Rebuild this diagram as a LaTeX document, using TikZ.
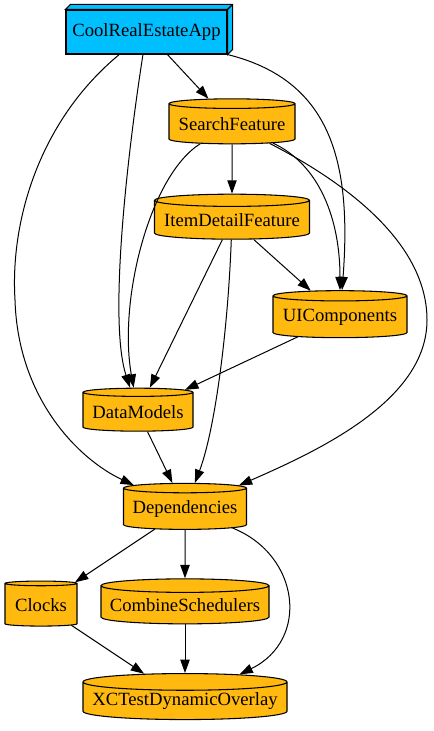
\documentclass[tikz,border=0pt]{standalone}
\usepackage{fontspec}
\setmainfont{Liberation Serif}
\usetikzlibrary{shapes.geometric,arrows.meta}
\definecolor{appblue}{HTML}{00BFFF}
\definecolor{modorange}{HTML}{FFB90F}

\begin{document}
\begin{tikzpicture}[x=0.75pt,y=-0.75pt,font=\fontsize{14}{16}\selectfont,
    module/.style={cylinder,shape border rotate=90,aspect=0.09,draw,fill=modorange,line width=0.8pt,minimum height=33.75pt,inner sep=0pt},
    link/.style={-{Triangle[length=10pt,width=7pt]},line width=0.75pt}]
  \useasboundingbox (0,0) rectangle (433,731);

  \node[draw,fill=appblue,line width=0.8pt,minimum width=120.75pt,minimum height=33pt,inner sep=0pt] (app) at (146.5,32) {CoolRealEstateApp};
  \draw[fill=appblue,line width=0.8pt] (app.north west) -- ++(5,-5) -- ([shift={(5,-5)}]app.north east) -- ([shift={(5,-5)}]app.south east) -- (app.south east) -- (app.north east) -- cycle;
  \draw[line width=0.8pt] (app.north east) -- ++(5,-5);

  \node[module,minimum width=94.5pt] (search) at (232,124) {SearchFeature};
  \node[module,minimum width=116.25pt] (item) at (232,220) {ItemDetailFeature};
  \node[module,minimum width=100.5pt,minimum height=35.25pt] (ui) at (340,317) {UIComponents};
  \node[module,minimum width=82.5pt,minimum height=32.25pt] (models) at (138,412) {DataModels};
  \node[module,minimum width=92.25pt,minimum height=34.5pt] (deps) at (185,509) {Dependencies};
  \node[module,minimum width=54pt] (clocks) at (41,605) {Clocks};
  \node[module,minimum width=126pt] (sched) at (185,605) {CombineSchedulers};
  \node[module,minimum width=153pt,minimum height=34.5pt] (overlay) at (185,701) {XCTestDynamicOverlay};

  \draw[link] (app) -- (search);
  \draw[link] (app) .. controls (128,150) and (108,320) .. (models);
  \draw[link] (app) .. controls (40,120) and (10,220) .. (15,300) .. controls (18,400) and (80,460) .. (deps);
  \draw[link] (app.south east) .. controls (330,80) and (352,160) .. (ui);
  \draw[link] (search) -- (item);
  \draw[link] (search) .. controls (150,175) and (118,300) .. (models);
  \draw[link] (search) .. controls (320,165) and (340,220) .. (ui);
  \draw[link] (search) .. controls (360,190) and (427,250) .. (427,320) .. controls (427,400) and (320,450) .. (deps);
  \draw[link] (item) -- (ui);
  \draw[link] (item) -- (models);
  \draw[link] (item) .. controls (228,330) and (215,430) .. (deps);
  \draw[link] (ui) -- (models);
  \draw[link] (models) -- (deps);
  \draw[link] (deps) -- (clocks);
  \draw[link] (deps) -- (sched);
  \draw[link] (deps) .. controls (300,555) and (310,640) .. (overlay);
  \draw[link] (clocks) -- (overlay);
  \draw[link] (sched) -- (overlay);
\end{tikzpicture}
\end{document}
